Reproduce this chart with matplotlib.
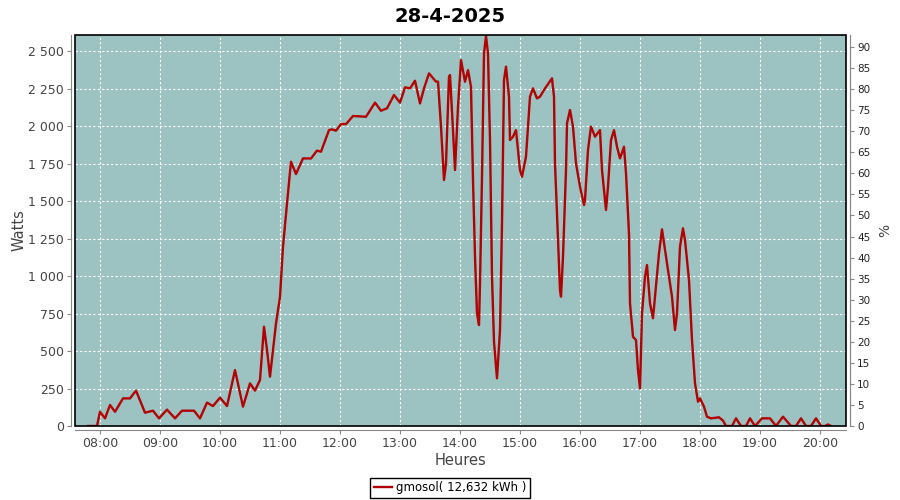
import matplotlib as mpl
import matplotlib.pyplot as plt
from matplotlib.patches import Rectangle
from matplotlib.ticker import FuncFormatter, MultipleLocator

# data (time, watts)
heures = ["07:48", "07:57", "08:00", "08:05", "08:10", "08:15", "08:23", "08:30", "08:36",
          "08:45", "08:53", "08:59", "09:07", "09:15", "09:22", "09:34", "09:40", "09:47",
          "09:53", "10:00", "10:07", "10:15", "10:23", "10:30", "10:35", "10:40", "10:44",
          "10:47", "10:50", "10:53", "10:56", "11:00", "11:03", "11:07", "11:11", "11:16",
          "11:23", "11:31", "11:37", "11:41", "11:49", "11:52", "11:56", "12:01", "12:06",
          "12:13", "12:26", "12:35", "12:41", "12:47", "12:54", "13:00", "13:05", "13:10",
          "13:15", "13:20", "13:24", "13:29", "13:36", "13:38", "13:41", "13:44", "13:46",
          "13:49", "13:50", "13:53", "13:55", "13:58", "14:01", "14:05", "14:08", "14:11",
          "14:13", "14:15", "14:17", "14:19", "14:20", "14:22", "14:24", "14:26", "14:28",
          "14:30", "14:32", "14:34", "14:37", "14:40", "14:42", "14:44", "14:46", "14:49",
          "14:50", "14:53", "14:56", "15:00", "15:02", "15:06", "15:10", "15:13", "15:17",
          "15:20", "15:25", "15:32", "15:34", "15:35", "15:38", "15:40", "15:41", "15:43",
          "15:46", "15:47", "15:50", "15:53", "15:56", "16:00", "16:04", "16:05", "16:08",
          "16:11", "16:15", "16:20", "16:22", "16:25", "16:26", "16:28", "16:31", "16:34",
          "16:37", "16:40", "16:44", "16:46", "16:49", "16:50", "16:53", "16:56", "16:58",
          "17:00", "17:02", "17:05", "17:07", "17:10", "17:13", "17:15", "17:19", "17:22",
          "17:25", "17:28", "17:32", "17:35", "17:37", "17:40", "17:43", "17:45", "17:49",
          "17:52", "17:55", "17:58", "18:00", "18:04", "18:07", "18:11", "18:19", "18:23",
          "18:26", "18:32", "18:36", "18:41", "18:46", "18:50", "18:55", "19:02", "19:06",
          "19:10", "19:16", "19:23", "19:31", "19:36", "19:41", "19:46", "19:51", "19:56",
          "20:01", "20:05", "20:08", "20:11"]
watts = [0, 0, 95, 51, 140, 95, 184, 184, 236,
         89, 102, 51, 109, 51, 102, 102, 51, 156,
         133, 189, 133, 373, 129, 284, 236, 307, 662,
         507, 329, 507, 684, 862, 1196, 1484, 1762, 1680,
         1784, 1784, 1836, 1829, 1973, 1978, 1969, 2013, 2013,
         2067, 2062, 2156, 2102, 2118, 2207, 2156, 2258, 2251,
         2302, 2151, 2251, 2351, 2296, 2296, 1996, 1640, 1751,
         2329, 2340, 1973, 1707, 2129, 2440, 2296, 2373, 2262,
         1640, 1129, 751, 673, 951, 1662, 2484, 2600, 2484,
         1907, 996, 562, 318, 640, 1351, 2307, 2396, 2196,
         1907, 1929, 1973, 1707, 1662, 1796, 2196, 2251, 2184,
         2196, 2251, 2318, 2196, 1751, 1240, 907, 862, 1129,
         1707, 2018, 2107, 1996, 1751, 1596, 1473, 1507, 1840,
         1996, 1929, 1973, 1707, 1507, 1440, 1596, 1907, 1973,
         1862, 1784, 1862, 1684, 1284, 818, 595, 573, 373,
         251, 751, 996, 1073, 818, 718, 862, 1151, 1311,
         1173, 1040, 862, 640, 751, 1196, 1318, 1240, 973,
         573, 284, 162, 184, 129, 62, 51, 58, 36,
         0, 0, 51, 0, 0, 51, 0, 51, 51,
         51, 0, 62, 0, 0, 51, 0, 0, 51,
         0, 0, 10, 0]

titre = "28-4-2025"
legende = "gmosol( 12,632 kWh )"
ymax_w = 2607
ymax_pct = 92.85


def to_h(s):
    h, m = s.split(":")
    return int(h) + int(m) / 60


xs = [to_h(h) for h in heures]

dpi = 100
fig = plt.figure(dpi=dpi, figsize=(900 / dpi, 500 / dpi))
mpl.rcParams.update({'font.size': 9, 'font.family': 'DejaVu Sans'})
ax = fig.add_axes([75 / 900, 74 / 500, 771 / 900, 391 / 500])
ax.set_facecolor('#9dc2c2')

ax.plot(xs, watts, color='#b00000', linewidth=1.7)

ax.set_xlim(7 + 35 / 60, 20 + 26 / 60)
ax.set_ylim(0, ymax_w)
ax.xaxis.set_major_locator(MultipleLocator(1))
ax.xaxis.set_major_formatter(FuncFormatter(lambda v, p: "%02d:00" % round(v)))
ax.yaxis.set_major_locator(MultipleLocator(250))
ax.yaxis.set_major_formatter(FuncFormatter(lambda v, p: "{:,}".format(int(v)).replace(",", " ")))
ax.grid(True, color='white', linestyle=(0, (2, 2)), linewidth=0.8)

for s in ['left', 'bottom', 'right']:
    ax.spines[s].set_position(('outward', 3))
    ax.spines[s].set_color('#888888')
ax.spines['top'].set_visible(False)
ax.add_patch(Rectangle((0, 0), 1, 1, transform=ax.transAxes, fill=False,
                       edgecolor='black', linewidth=1.2, zorder=5, clip_on=False))
ax.tick_params(colors='#888888', labelcolor='#444444', length=3, pad=2, labelsize=9)

ax2 = ax.twinx()
ax2.set_ylim(0, ymax_pct)
ax2.yaxis.set_major_locator(MultipleLocator(5))
for s in ['left', 'bottom', 'right', 'top']:
    ax2.spines[s].set_visible(False)
ax2.spines['right'].set_visible(True)
ax2.spines['right'].set_position(('outward', 3))
ax2.spines['right'].set_color('#888888')
ax2.tick_params(colors='#888888', labelcolor='#222222', length=3, pad=2, labelsize=7.5)
ax2.set_ylabel('%', fontsize=10, color='#444444', labelpad=6)

ax.set_xlabel('Heures', fontsize=10.5, color='#444444', labelpad=2)
ax.set_ylabel('Watts', fontsize=10.5, color='#444444', labelpad=1)
fig.suptitle(titre, fontsize=14, fontweight='bold', y=0.985)

leg = ax.legend([legende], loc='center', bbox_to_anchor=(0.5, 12 / 500), bbox_transform=fig.transFigure,
                fancybox=False, edgecolor='black', framealpha=1, fontsize=8.5,
                handlelength=1.6, handletextpad=0.3, borderpad=0.3)
leg.get_frame().set_linewidth(1)

fig.savefig('out.png')
